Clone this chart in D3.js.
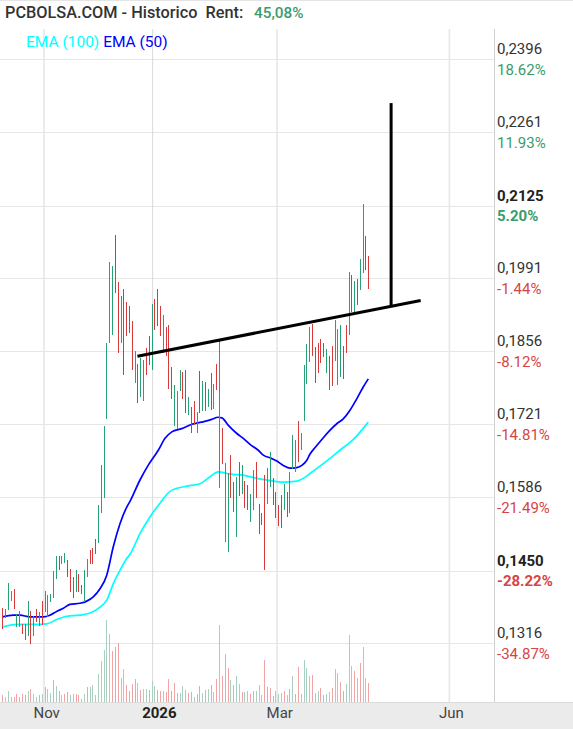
<!DOCTYPE html>
<html><head><meta charset="utf-8">
<script src="https://cdn.jsdelivr.net/npm/d3@7"></script>
<style>html,body{margin:0;padding:0;background:#fff;}svg{display:block;font-family:Roboto,"Noto Sans",sans-serif;}</style>
</head><body><svg id="c" width="573" height="729"></svg>
<script>
// ---- data ----
const highs = [0.1381,0.1380,0.1428,0.1412,0.1416,0.1371,0.1375,0.1352,0.1352,0.1394,0.1375,0.1366,0.1380,0.1373,0.1394,0.1412,0.1406,0.1408,0.1449,0.1477,
0.1477,0.1477,0.1483,0.1470,0.1454,0.1439,0.1451,0.1444,0.1423,0.1452,0.1471,0.1489,0.1493,0.1508,0.1572,0.1645,0.1717,0.1872,0.2022,0.2013,
0.2072,0.1984,0.1958,0.1972,0.1947,0.1939,0.1912,0.1856,0.1832,0.1844,0.1839,0.1862,0.1884,0.1943,0.1952,0.1971,0.1939,0.1923,0.1901,0.1904,
0.1827,0.1793,0.1782,0.1822,0.1818,0.1822,0.1771,0.1753,0.1764,0.1744,0.1819,0.1802,0.1800,0.1787,0.1815,0.1796,0.1832,0.1876,0.1714,0.1649,
0.1631,0.1664,0.1614,0.1624,0.1652,0.1645,0.1617,0.1608,0.1593,0.1637,0.1652,0.1574,0.1557,0.1627,0.1640,0.1670,0.1621,0.1595,0.1571,0.1591,
0.1610,0.1595,0.1633,0.1701,0.1692,0.1728,0.1704,0.1830,0.1870,0.1901,0.1907,0.1864,0.1872,0.1878,0.1871,0.1861,0.1847,0.1865,0.1913,0.1898,
0.1904,0.1865,0.1905,0.2002,0.1998,0.1986,0.1989,0.2027,0.2128,0.2069,0.2033];
const lows = [0.1343,0.1362,0.1377,0.1394,0.1379,0.1346,0.1346,0.1333,0.1323,0.1330,0.1315,0.1330,0.1355,0.1348,0.1349,0.1374,0.1365,0.1392,0.1399,0.1434,
0.1451,0.1462,0.1464,0.1439,0.1411,0.1399,0.1411,0.1411,0.1408,0.1392,0.1439,0.1463,0.1463,0.1481,0.1501,0.1557,0.1584,0.1730,0.1871,0.1887,
0.1963,0.1853,0.1871,0.1812,0.1884,0.1890,0.1822,0.1797,0.1760,0.1771,0.1764,0.1813,0.1831,0.1822,0.1896,0.1902,0.1884,0.1853,0.1847,0.1787,
0.1768,0.1717,0.1713,0.1782,0.1768,0.1742,0.1738,0.1705,0.1719,0.1704,0.1742,0.1746,0.1745,0.1753,0.1747,0.1750,0.1784,0.1604,0.1648,0.1503,
0.1485,0.1584,0.1559,0.1513,0.1588,0.1592,0.1566,0.1563,0.1540,0.1562,0.1584,0.1518,0.1534,0.1452,0.1573,0.1605,0.1571,0.1547,0.1533,0.1530,
0.1563,0.1550,0.1557,0.1639,0.1633,0.1651,0.1673,0.1727,0.1796,0.1836,0.1847,0.1797,0.1816,0.1835,0.1845,0.1816,0.1785,0.1791,0.1838,0.1794,
0.1808,0.1804,0.1852,0.1887,0.1929,0.1929,0.1942,0.1970,0.2001,0.2006,0.1971];
const candleDir = "duuuduuddudududuuuuuduudddudduuddduuuuuudduddddudu" +
                  "udduddduddduuudduddudududududuuddududduudddduuddddu" +
                  "duuudu uuudddddudduuudd ududuudd".replace(/ /g,"");
const volumes = [73,50,113,47,53,80,47,83,73,113,133,83,47,67,83,147,133,93,223,157,
113,67,80,100,67,80,80,67,33,80,153,153,167,73,280,413,523,823,680,513,
547,590,240,333,167,107,183,233,190,123,133,127,123,207,157,123,113,113,100,233,
107,193,93,93,163,120,87,100,53,83,163,93,123,133,173,100,233,773,263,483,
343,223,173,263,183,100,100,113,83,113,113,173,73,423,153,143,63,113,83,93,
113,73,133,263,83,353,83,423,343,263,273,93,113,143,73,83,103,143,333,293,
203,113,183,673,363,313,243,393,553,243,193];
const volDir = "duuuddddduduudu uudu udduuddduduuuuuuuuddduuddddudu" +
               "uduudduddddduuudduddududududdduduuduudduuudddduuudu" +
               "dudduuuuduudduuduudduuududuudd";
const ema50 = [[0,0.1365],[3.9,0.1368],[6.3,0.1368],[9.8,0.1365],[14.6,0.1365],[16.9,0.1368],[19.3,0.1375],[21.7,0.1381],[24,0.1388],
[27.6,0.1390],[30,0.1394],[32.3,0.1402],[34.7,0.1417],[37.1,0.1442],[39.4,0.1494],[41.8,0.1537],[44.2,0.1568],[45.4,0.1579],[48.9,0.1618],
[51.8,0.1645],[55.4,0.1673],[57.8,0.1695],[60.2,0.1707],[63.7,0.1713],[67.3,0.1721],[70.8,0.1725],[74.4,0.1730],[76.6,0.1734],[78,0.1733],
[80.3,0.1719],[83.3,0.1704],[85.6,0.1695],[88,0.1684],[90.9,0.1673],[92.7,0.1664],[95.1,0.1659],[97.5,0.1653],[99.8,0.1645],[102.2,0.1640],
[104.6,0.1641],[106.4,0.1645],[108.1,0.1654],[109.3,0.1666],[111.1,0.1678],[113.5,0.1693],[116,0.1708],[118.8,0.1722],[121.1,0.1731],
[123.5,0.1747],[125.9,0.1768],[128.2,0.1790],[130,0.1805]];
const ema100 = [[0,0.1346],[5.1,0.1351],[11,0.1351],[15.8,0.1352],[19.3,0.1360],[22.9,0.1366],[27.6,0.1368],[31.2,0.1372],[34.7,0.1383],
[37.1,0.1396],[39.4,0.1426],[41.8,0.1451],[44.2,0.1473],[45.4,0.1481],[48.9,0.1519],[52.5,0.1550],[56,0.1575],[59.6,0.1597],[64.9,0.1606],
[70.2,0.1611],[73.8,0.1624],[76.7,0.1633],[80.9,0.1629],[85.6,0.1627],[90.4,0.1621],[95.1,0.1617],[99.8,0.1614],[104.6,0.1616],[106.9,0.1621],
[109.3,0.1630],[116.4,0.1658],[119.9,0.1673],[124.7,0.1693],[130,0.1725]];
const yTickValues = [0.2396,0.2261,0.2125,0.1991,0.1856,0.1721,0.1586,0.1450,0.1316];
const yTickLabels = ["0,2396","0,2261","0,2125","0,1991","0,1856","0,1721","0,1586","0,1450","0,1316"];
const yTickPct = ["18.62%","11.93%","5.20%","-1.44%","-8.12%","-14.81%","-21.49%","-28.22%","-34.87%"];
const yTickBold = [false,false,true,false,false,false,false,true,false];
const monthLabels = ["Nov","2026","Mar","Jun"];
const monthTickIdx = [14.8,53.4,97.6,158.8];
const monthBold = [false,true,false,false];
const trendFrom = [48,0.1847], trendTo = [148.6,0.1950];
const targetBar = [138.1,0.1941,0.2315];
const titleText = "PCBOLSA.COM - Historico  Rent:";
const rentText = "45,08%";
const legend = [["EMA (100)","#00ffff"],["EMA (50)","#0000ff"]];

// ---- drawing ----
const W = 573, H = 729, plotRight = 494, plotTop = 29, plotBottom = 702;
const svg = d3.select("#c");
const x = d3.scaleLinear().domain([0, highs.length - 1]).range([2.3, 368.3]);
const y = d3.scaleLinear().domain([0.1316, 0.2396]).range([643.3, 59.3]);
const yv = d3.scaleLinear().domain([0, 1000]).range([plotBottom, plotBottom - 100]);
const GREEN = "#26a074", RED = "#d63a3a";
const VGREEN = "#a9cfbf", VRED = "#f2a4a4";

svg.append("rect").attr("width", W).attr("height", H).attr("fill", "#fff");
svg.append("line").attr("x1",0).attr("x2",W).attr("y1",0.5).attr("y2",0.5).attr("stroke","#e4e4e4");

// horizontal grid
svg.append("g").selectAll("line").data(yTickValues).join("line")
  .attr("x1", 0).attr("x2", plotRight).attr("y1", d => Math.round(y(d)) + 0.5).attr("y2", d => Math.round(y(d)) + 0.5)
  .attr("stroke", "#e6e6e6").attr("stroke-width", 1);
// vertical grid
svg.append("g").selectAll("line").data(monthTickIdx).join("line")
  .attr("x1", d => x(d)).attr("x2", d => x(d)).attr("y1", plotTop).attr("y2", plotBottom)
  .attr("stroke", (d, i) => monthBold[i] ? "#d9d9d9" : "#e6e6e6").attr("stroke-width", (d, i) => monthBold[i] ? 1 : 1.6);
// right axis border
svg.append("line").attr("x1", plotRight + 0.5).attr("x2", plotRight + 0.5).attr("y1", plotTop).attr("y2", plotBottom)
  .attr("stroke", "#cfcfcf");

// volume
svg.append("g").selectAll("rect").data(volumes).join("rect")
  .attr("x", (d, i) => Math.round(x(i))).attr("width", 1)
  .attr("y", d => yv(d)).attr("height", d => plotBottom - yv(d))
  .attr("fill", (d, i) => volDir[i] === "u" ? VGREEN : VRED).attr("shape-rendering", "crispEdges");

// EMA lines
const line = d3.line().x(d => x(d[0])).y(d => y(d[1])).curve(d3.curveMonotoneX);
svg.append("path").attr("d", line(ema100)).attr("fill", "none").attr("stroke", "#00ffff").attr("stroke-width", 1.7);
svg.append("path").attr("d", line(ema50)).attr("fill", "none").attr("stroke", "#0000ff").attr("stroke-width", 1.7);

// price bars (high-low)
svg.append("g").selectAll("rect").data(highs).join("rect")
  .attr("x", (d, i) => Math.round(x(i))).attr("width", 1)
  .attr("y", d => y(d)).attr("height", (d, i) => y(lows[i]) - y(d))
  .attr("fill", (d, i) => candleDir[i] === "u" ? GREEN : RED).attr("shape-rendering", "crispEdges");

// annotations
svg.append("line").attr("x1", x(trendFrom[0])).attr("y1", y(trendFrom[1])).attr("x2", x(trendTo[0])).attr("y2", y(trendTo[1]))
  .attr("stroke", "#000").attr("stroke-width", 3);
svg.append("line").attr("x1", x(targetBar[0])).attr("x2", x(targetBar[0])).attr("y1", y(targetBar[2])).attr("y2", y(targetBar[1]))
  .attr("stroke", "#000").attr("stroke-width", 3);

// bottom axis band
svg.append("rect").attr("x", 0).attr("y", plotBottom).attr("width", W).attr("height", H - plotBottom).attr("fill", "#ebebeb");
svg.append("line").attr("x1", 0).attr("x2", W).attr("y1", plotBottom + 0.5).attr("y2", plotBottom + 0.5).attr("stroke", "#dcdcdc");
svg.append("g").selectAll("text").data(monthLabels).join("text")
  .attr("x", (d, i) => x(monthTickIdx[i]) - 10.5).attr("y", 717.5)
  .attr("font-size", 15).attr("font-weight", (d, i) => monthBold[i] ? 700 : 400)
  .attr("fill", (d, i) => monthBold[i] ? "#222" : "#444").text(d => d);

// right axis labels
const ya = svg.append("g");
yTickValues.forEach((v, i) => {
  const yy = y(v);
  const pos = !yTickPct[i].startsWith("-");
  ya.append("text").attr("x", 497).attr("y", yy - 5).attr("font-size", 15)
    .attr("font-weight", yTickBold[i] ? 700 : 400).attr("fill", yTickBold[i] ? "#222" : "#333").text(yTickLabels[i]);
  ya.append("text").attr("x", 497).attr("y", yy + 15.5).attr("font-size", 15)
    .attr("font-weight", yTickBold[i] ? 700 : 400).attr("fill", pos ? "#3a9b6c" : "#d64545").text(yTickPct[i]);
});

// title
svg.append("text").attr("x", 5).attr("y", 17.5).attr("font-size", 16.3).attr("font-weight", 500)
  .attr("fill", "#333").attr("xml:space", "preserve").style("white-space", "pre").text(titleText);
svg.append("text").attr("x", 254).attr("y", 17.5).attr("font-size", 15.3).attr("font-weight", 500)
  .attr("fill", "#3a9b6c").text(rentText);

// legend
const lg = svg.append("text").attr("x", 26).attr("y", 47).attr("font-size", 15.5);
legend.forEach(([t, c], i) => lg.append("tspan").attr("fill", c).text((i ? " " : "") + t));
</script></body></html>
